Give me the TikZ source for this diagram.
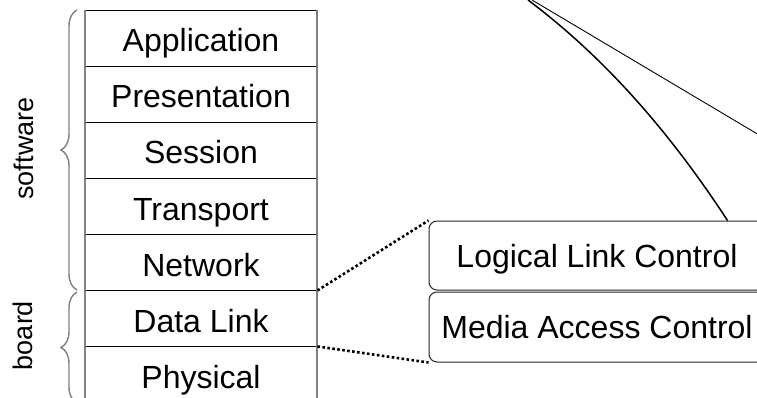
\documentclass[tikz,border=0pt]{standalone}
\usepackage{fontspec}
\setmainfont{Liberation Sans}
\usetikzlibrary{decorations.pathreplacing}
\begin{document}
\begin{tikzpicture}[x=1pt,y=-1pt,
  layer/.style={draw=black, line width=0.9pt, minimum width=232pt, minimum height=56pt,
    inner sep=0pt, text height=28pt, text depth=0pt, font=\fontsize{32}{38}\selectfont},
  rbox/.style={draw=black!85, line width=1pt, rounded corners=8pt, minimum width=336pt,
    inner sep=0pt, text height=23pt, text depth=0pt, font=\fontsize{32}{38}\selectfont},
  side/.style={font=\fontsize{27}{32}\selectfont, rotate=90, inner sep=0pt},
  edge/.style={draw=gray, line width=2pt},
  bracestyle/.style={draw=gray, line width=1.4pt, decorate, decoration={brace, amplitude=16pt}},
  dots/.style={line width=2.6pt, dash pattern=on 2.6pt off 2.4pt},
  curveline/.style={line width=1.5pt},
  thinline/.style={line width=0.9pt}]
\useasboundingbox (0,0) rectangle (757,398);
\clip (0,0) rectangle (757,398);
\fill[white] (0,0) rectangle (757,398);
% OSI stack
\node[layer] (app) at (201,38)  {Application};
\node[layer] (pre) at (201,94)  {Presentation};
\node[layer] (ses) at (201,150) {Session};
\node[layer] (tra) at (201,206) {Transport};
\node[layer] (net) at (201,262) {Network};
\node[layer] (dl)  at (201,318) {Data Link};
\node[layer] (phy) at (201,374) {Physical};
\draw[edge] (app.north west) -- (phy.south west);
\draw[edge] (app.north east) -- (phy.south east);
% braces
\coordinate (swb) at (77,290);
\coordinate (swt) at (77,10);
\coordinate (bdb) at (77,403);
\coordinate (bdt) at (77,292);
\draw[bracestyle] (swb) -- (swt);
\draw[bracestyle] (bdb) -- (bdt);
\node[side, anchor=base] (sw) at (33,148.5) {software};
\node[side, anchor=base] (bd) at (32,335.5) {board};
% sublayers
\node[rbox, minimum height=69pt] (llc) at (597,255.5) {Logical Link Control};
\node[rbox, minimum height=70pt] (mac) at (597,327) {Media Access Control};
\draw[dots] (net.south east) -- (llc.north west);
\draw[dots] (dl.south east) -- (mac.south west);
% lines from above
\coordinate (cs) at (528,0);
\coordinate (ls) at (532,0);
\coordinate (le) at (770,141.5);
\coordinate (ce) at ([xshift=299pt]llc.north west);
\draw[curveline] (cs) .. controls (608,60) and (673,137) .. (ce);
\draw[thinline] (ls) -- (le);
\end{tikzpicture}
\end{document}
